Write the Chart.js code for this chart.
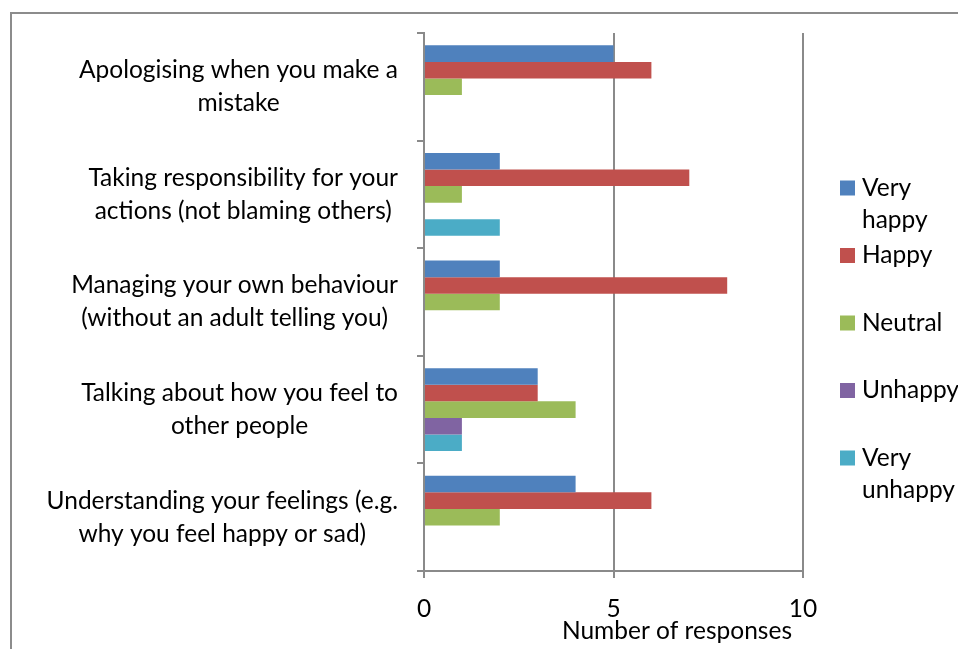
<!DOCTYPE html>
<html>
<head>
<meta charset="utf-8">
<title>Number of responses</title>
<script src="https://cdn.jsdelivr.net/npm/chart.js@4.4.1/dist/chart.umd.min.js"></script>
<style>
    html, body { margin: 0; padding: 0; background: #fff; overflow: hidden; }
    #frame {
        position: absolute; left: 10px; top: 12px; width: 1000px; height: 700px;
        border-left: 2px solid #8c8c8c; border-top: 2px solid #8c8c8c;
    }
    #wrap { position: absolute; left: 0; top: 0; width: 958px; height: 649px; }
</style>
</head>
<body>
<div id="frame"></div>
<div id="wrap"><canvas id="chart" width="958" height="649"></canvas></div>
<script>
// skills asked about, top to bottom (each entry is one label, split into lines)
var CATEGORIES = [
    ["Apologising when you make a", "mistake"],
    ["Taking responsibility for your", "actions (not blaming others)"],
    ["Managing your own behaviour", "(without an adult telling you)"],
    ["Talking about how you feel to", "other people"],
    ["Understanding your feelings (e.g.", "why you feel happy or sad)"]
];

var SERIES_NAMES = ["Very happy", "Happy", "Neutral", "Unhappy", "Very unhappy"];
var SERIES_COLORS = ["#4f81bd", "#c0504d", "#9bbb59", "#8064a2", "#4bacc6"];

var VERY_HAPPY   = [5, 2, 2, 3, 4];
var HAPPY        = [6, 7, 8, 3, 6];
var NEUTRAL      = [1, 1, 2, 4, 2];
var UNHAPPY      = [0, 0, 0, 1, 0];
var VERY_UNHAPPY = [0, 2, 0, 1, 0];

var X_MIN = 0, X_MAX = 10, X_STEP = 5;
var X_TITLE = "Number of responses";

var FONT_FAMILY = "Lato, 'Open Sans', sans-serif";
var FONT_SIZE = 24.5;
var LINE_HEIGHT = 33;
var AXIS_GREY = "#8a8a8a";

var seriesValues = [VERY_HAPPY, HAPPY, NEUTRAL, UNHAPPY, VERY_UNHAPPY];

// category labels: each label block sits right-aligned against the axis,
// its lines centred on each other
var categoryLabels = {
    id: 'categoryLabels',
    afterDraw: function(chart) {
        var ctx = chart.ctx;
        var yScale = chart.scales.y;
        var right = yScale.right - 26;
        ctx.save();
        ctx.font = FONT_SIZE + "px " + FONT_FAMILY;
        ctx.fillStyle = "#000";
        ctx.textAlign = "center";
        ctx.textBaseline = "middle";
        CATEGORIES.forEach(function(lines, i) {
            var widest = 0;
            lines.forEach(function(line) {
                widest = Math.max(widest, ctx.measureText(line).width);
            });
            var cx = right - widest / 2;
            var cy = yScale.getPixelForTick(i);
            var top = cy - (lines.length - 1) * LINE_HEIGHT / 2;
            lines.forEach(function(line, j) {
                ctx.fillText(line, cx, top + j * LINE_HEIGHT);
            });
        });
        ctx.restore();
    }
};

// x axis title, set a little in from the right end of the axis
var axisTitle = {
    id: 'axisTitle',
    afterDraw: function(chart) {
        var ctx = chart.ctx;
        var xScale = chart.scales.x;
        ctx.save();
        ctx.font = FONT_SIZE + "px " + FONT_FAMILY;
        ctx.fillStyle = "#000";
        ctx.textAlign = "right";
        ctx.textBaseline = "middle";
        ctx.fillText(X_TITLE, xScale.right - 11, 631);
        ctx.restore();
    }
};

// legend on the right with word-wrapped names
var sideLegend = {
    id: 'sideLegend',
    afterDraw: function(chart) {
        var ctx = chart.ctx;
        var boxX = 840, textX = 862, maxWidth = 958 - textX;
        var firstY = 188, step = 67.5;
        ctx.save();
        ctx.font = FONT_SIZE + "px " + FONT_FAMILY;
        ctx.textAlign = "left";
        ctx.textBaseline = "middle";
        chart.data.datasets.forEach(function(ds, i) {
            var y = firstY + i * step;
            ctx.fillStyle = ds.backgroundColor;
            ctx.fillRect(boxX, y - 7.5, 15, 15);
            var words = ds.label.split(" ");
            var lines = [];
            var cur = "";
            words.forEach(function(w) {
                var test = cur ? cur + " " + w : w;
                if (cur && ctx.measureText(test).width > maxWidth) {
                    lines.push(cur);
                    cur = w;
                } else {
                    cur = test;
                }
            });
            lines.push(cur);
            ctx.fillStyle = "#000";
            lines.forEach(function(line, j) {
                ctx.fillText(line, textX, y + j * 32);
            });
        });
        ctx.restore();
    }
};

var datasets = SERIES_NAMES.map(function(name, i) {
    return {
        label: name,
        data: seriesValues[i],
        backgroundColor: SERIES_COLORS[i],
        borderWidth: 0,
        barPercentage: 1.0,
        categoryPercentage: 0.77
    };
});

var ctx = document.getElementById("chart").getContext("2d");
var chart = new Chart(ctx, {
    type: 'bar',
    data: {
        labels: CATEGORIES.map(function(l) { return l.join(" "); }),
        datasets: datasets
    },
    options: {
        indexAxis: 'y',
        responsive: false,
        animation: false,
        layout: {
            padding: { top: 33, right: 155, left: 0, bottom: 0 }
        },
        plugins: {
            legend: { display: false },
            tooltip: { enabled: false }
        },
        scales: {
            x: {
                min: X_MIN,
                max: X_MAX,
                ticks: {
                    stepSize: X_STEP,
                    color: "#000",
                    padding: 16,
                    font: { family: FONT_FAMILY, size: FONT_SIZE }
                },
                grid: {
                    color: AXIS_GREY,
                    lineWidth: 2,
                    tickLength: 7
                },
                border: { display: true, color: AXIS_GREY, width: 2 },
                afterFit: function(scale) { scale.height = 649 - 571; }
            },
            y: {
                ticks: { display: false },
                grid: {
                    offset: true,
                    drawOnChartArea: false,
                    color: AXIS_GREY,
                    lineWidth: 2,
                    tickLength: 7
                },
                border: { display: true, color: AXIS_GREY, width: 2 },
                afterFit: function(scale) { scale.width = 424; }
            }
        }
    },
    plugins: [categoryLabels, axisTitle, sideLegend]
});
</script>
</body>
</html>
